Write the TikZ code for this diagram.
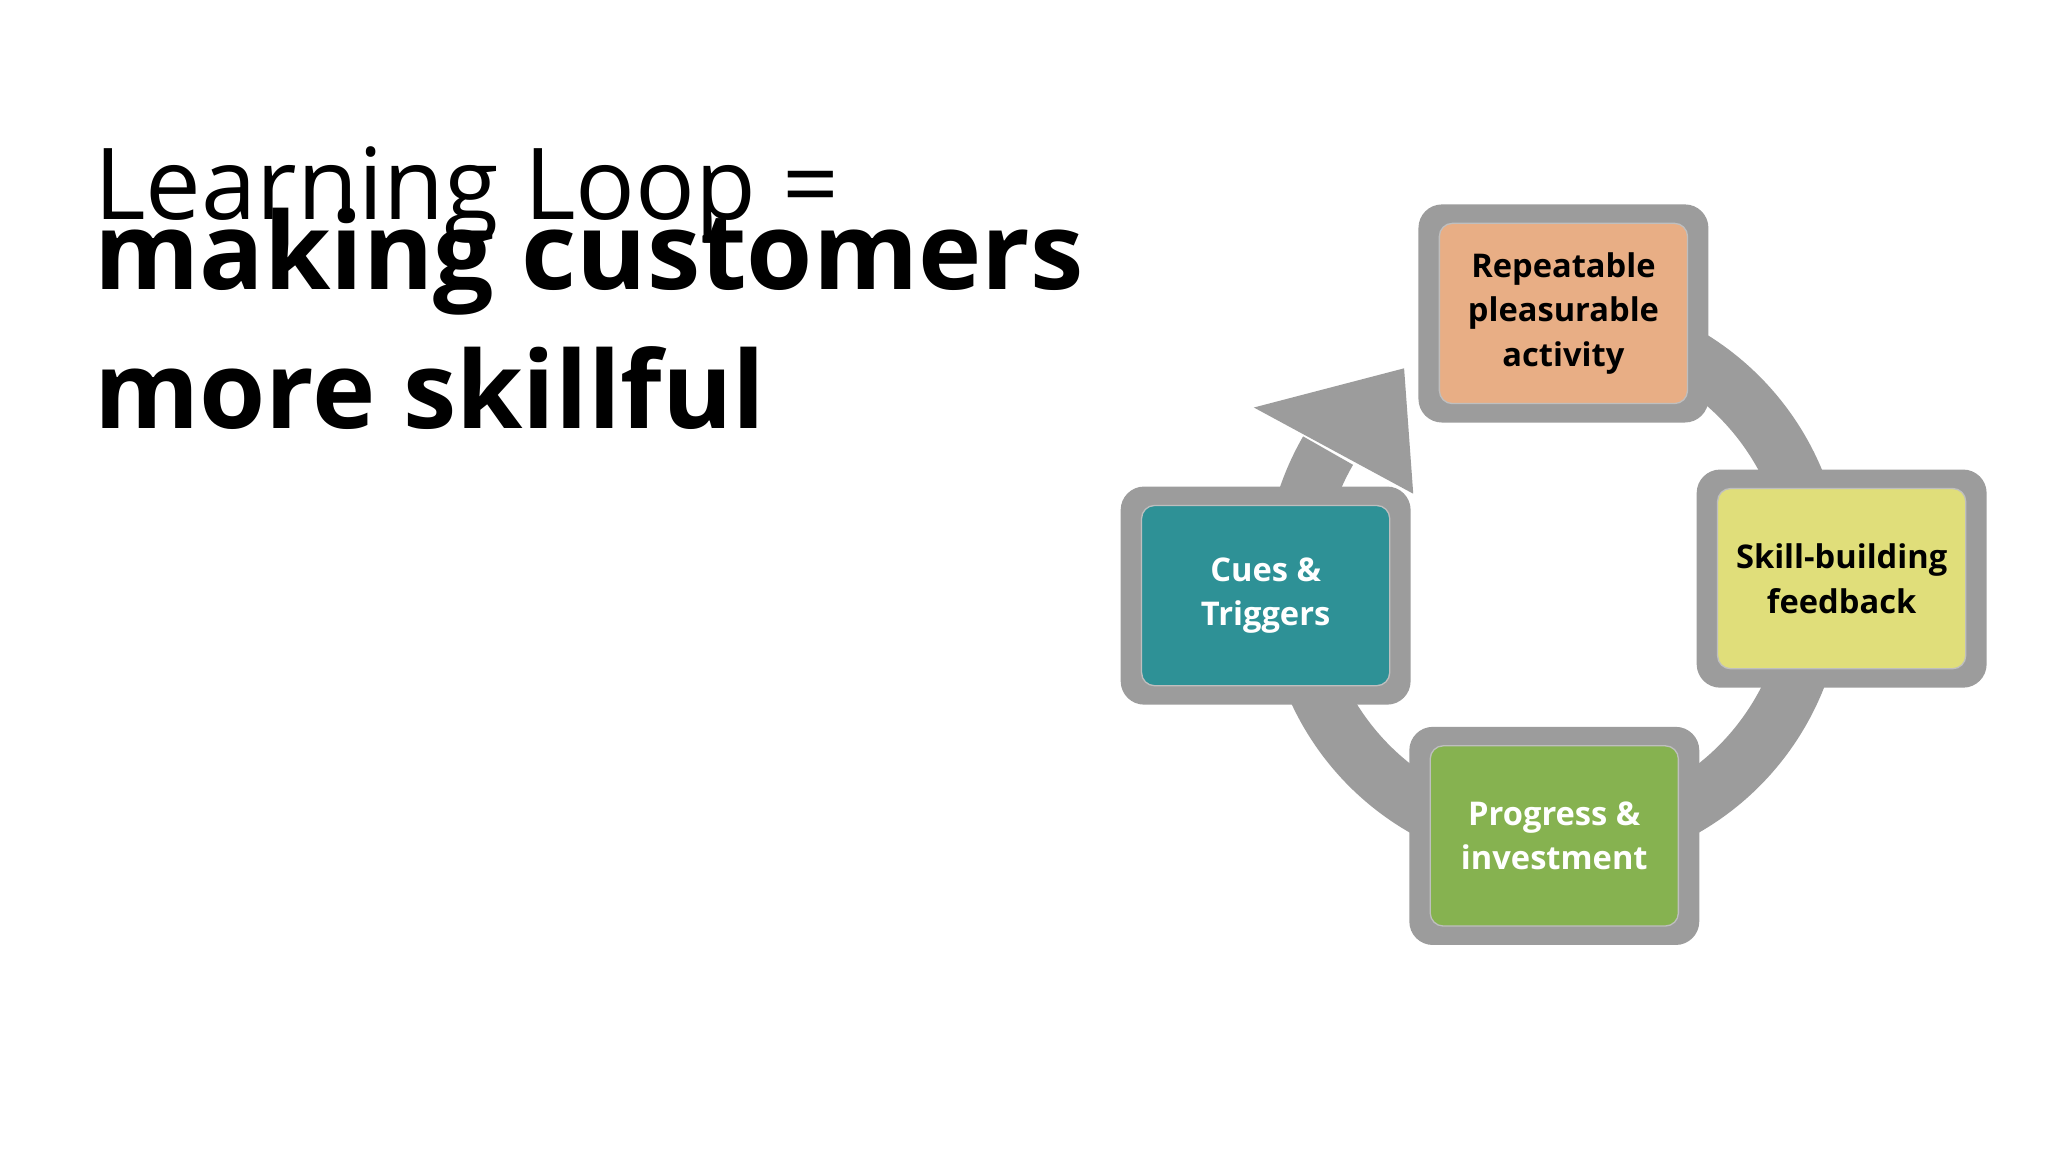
\documentclass[tikz,border=0pt]{standalone}
\usetikzlibrary{calc}
\usepackage{fontspec}
\setmainfont{Open Sans}
\begin{document}
\begin{tikzpicture}[x=1pt,y=-1pt,
  outer/.style={draw=none,fill=ringgray,rounded corners=18pt,minimum width=222pt,minimum height=167pt},
  inner/.style={rounded corners=10pt,minimum width=190pt,minimum height=138pt,align=center,font=\bfseries\fontsize{25}{34}\selectfont,draw=black!25,line width=1pt}]
\definecolor{ringgray}{HTML}{9C9C9C}
\definecolor{borange}{HTML}{E8AE85}
\definecolor{byellow}{HTML}{E0DE7A}
\definecolor{bgreen}{HTML}{86B250}
\definecolor{bteal}{HTML}{2E9196}
\useasboundingbox (0,0) rectangle (1568,882);
\fill[white] (0,0) rectangle (1568,882);
\node[anchor=base west,inner sep=0,font=\fontsize{76}{90}\selectfont] (title) at (72,168) {Learning Loop =};
\node[anchor=base west,inner sep=0,align=left,font=\bfseries\fontsize{82}{106}\selectfont] (sub) at (72,328) {making customers\\more skillful};
\coordinate (c) at (1190,445);
\draw[ringgray,line width=44pt] ($(c)+(210:200)$) arc[start angle=210,end angle=-80,radius=200];
\fill[ringgray] (960,312) -- (1075,282) -- (1082,378) -- cycle;
\node[outer] (o1) at (1197,240) {};
\node[inner,fill=borange] (a) at (1197,240) {Repeatable\\pleasurable\\activity};
\node[outer] (o2) at (1410,443) {};
\node[inner,fill=byellow] (b) at (1410,443) {Skill-building\\feedback};
\node[outer] (o3) at (1190,640) {};
\node[inner,fill=bgreen,text=white] (d) at (1190,640) {Progress \&\\investment};
\node[outer] (o4) at (969,456) {};
\node[inner,fill=bteal,text=white] (e) at (969,456) {Cues \&\\Triggers};
\end{tikzpicture}
\end{document}
